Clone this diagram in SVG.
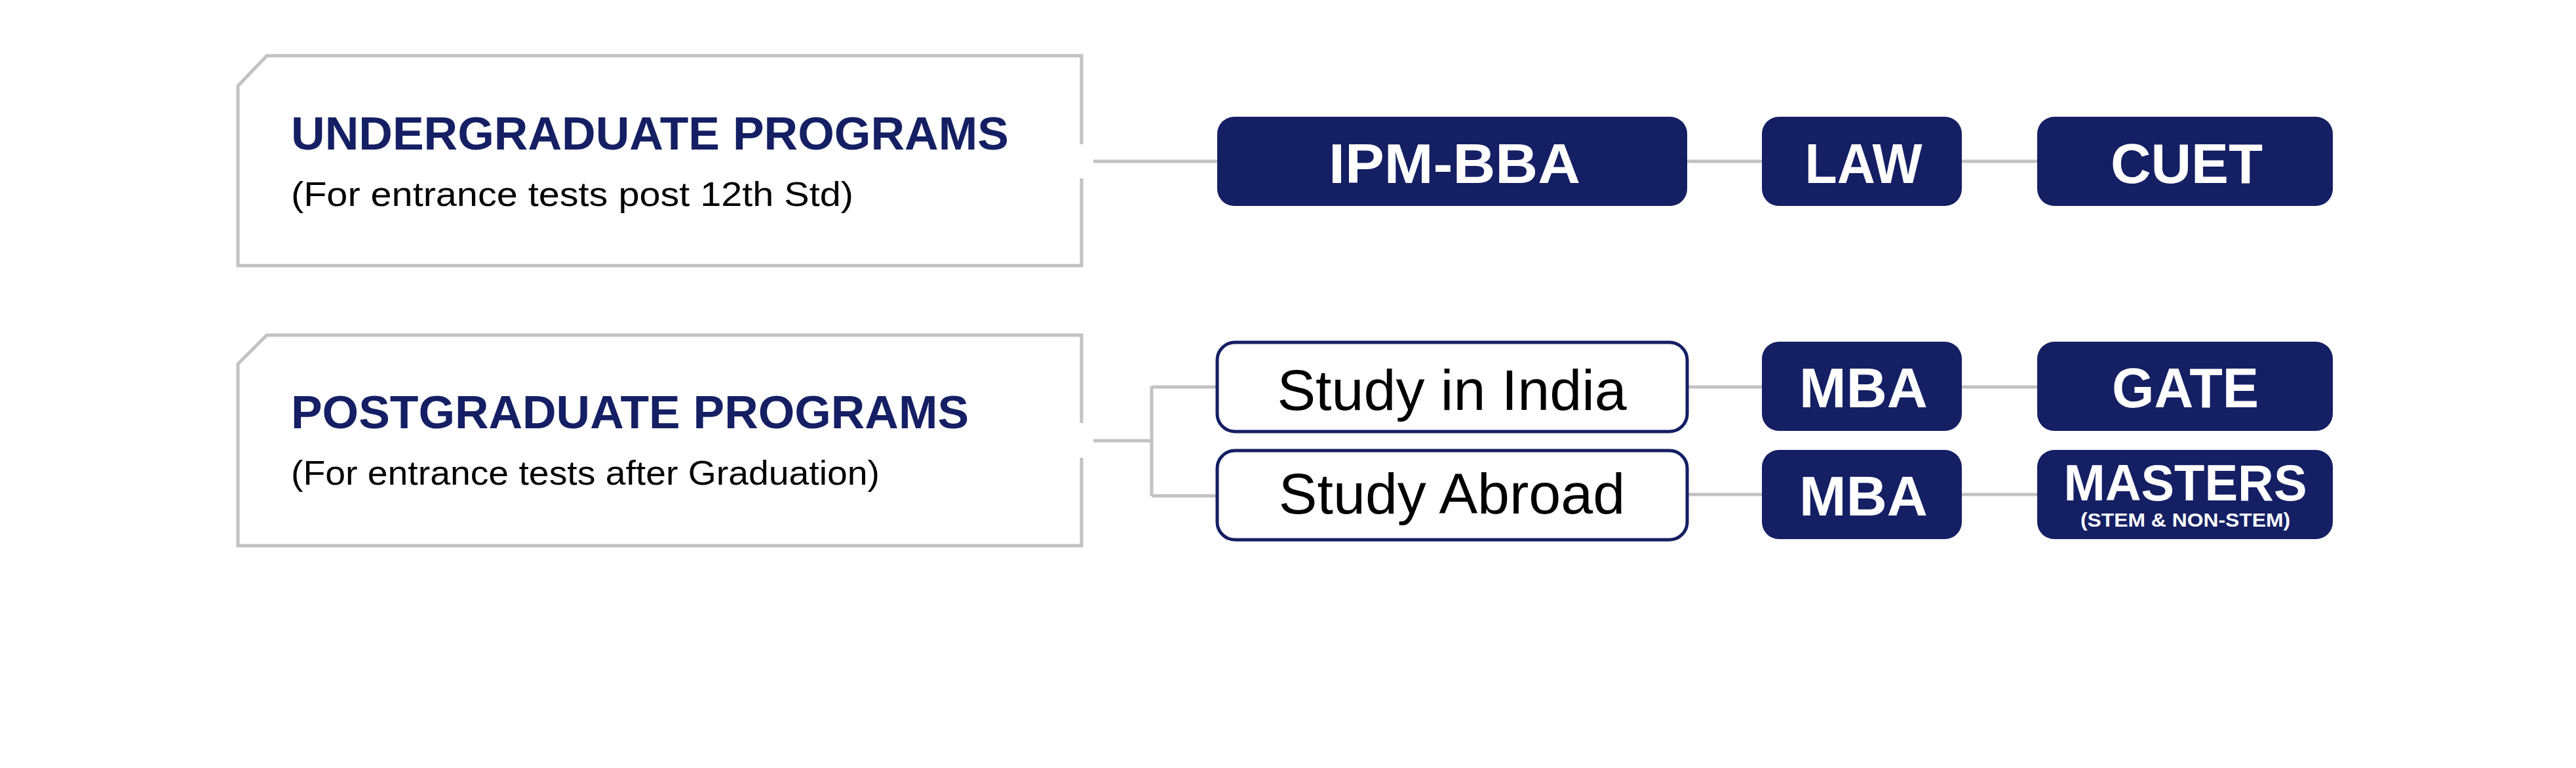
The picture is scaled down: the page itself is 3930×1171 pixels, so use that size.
<svg xmlns="http://www.w3.org/2000/svg" width="3930" height="1171" viewBox="0 0 3930 1171">
<style>
.frame{fill:#ffffff;stroke:#c2c2c2;stroke-width:5;stroke-linejoin:miter}
.conn{fill:none;stroke:#c2c2c2;stroke-width:5}
.solid{fill:#141f64}
.outline{fill:#ffffff;stroke:#141f64;stroke-width:5}
.title{font-family:"Liberation Sans",Arial,sans-serif;font-weight:700;fill:#141f64;font-size:71px}
.sub{font-family:"Liberation Sans",Arial,sans-serif;fill:#000000;font-size:52px}
.wt{font-family:"Liberation Sans",Arial,sans-serif;font-weight:700;fill:#ffffff;font-size:86px;text-anchor:middle}
.bt{font-family:"Liberation Sans",Arial,sans-serif;fill:#000000;font-size:88px;text-anchor:middle}
</style>
<rect width="3930" height="1171" fill="#ffffff"/>
<g id="connectors">
<line class="conn" x1="1668" y1="246" x2="1857" y2="246"/>
<line class="conn" x1="2574" y1="246" x2="2688" y2="246"/>
<line class="conn" x1="2993" y1="246" x2="3108" y2="246"/>
<path class="conn" d="M1668 672 H1757 M1757 589 V756 M1757 590 H1857 M1757 756 H1857"/>
<line class="conn" x1="2574" y1="590" x2="2688" y2="590"/>
<line class="conn" x1="2993" y1="590" x2="3108" y2="590"/>
<line class="conn" x1="2574" y1="754" x2="2688" y2="754"/>
<line class="conn" x1="2993" y1="754" x2="3108" y2="754"/>
</g>
<g id="undergraduate">
<path class="frame" d="M1650 220 V85 H407 L363 131 V405 H1650 V272"/>
<text class="title" x="444" y="228" textLength="1095" lengthAdjust="spacingAndGlyphs">UNDERGRADUATE PROGRAMS</text>
<text class="sub" x="444" y="314" textLength="858" lengthAdjust="spacingAndGlyphs">(For entrance tests post 12th Std)</text>
</g>
<g id="postgraduate">
<path class="frame" d="M1650 645 V511 H407 L363 555 V832 H1650 V698"/>
<text class="title" x="444" y="653" textLength="1034" lengthAdjust="spacingAndGlyphs">POSTGRADUATE PROGRAMS</text>
<text class="sub" x="444" y="739" textLength="898" lengthAdjust="spacingAndGlyphs">(For entrance tests after Graduation)</text>
</g>
<g id="ipm-bba">
<rect class="solid" x="1857" y="178" width="717" height="136" rx="26"/>
<text class="wt" x="2219" y="279" textLength="384" lengthAdjust="spacingAndGlyphs">IPM-BBA</text>
</g>
<g id="law">
<rect class="solid" x="2688" y="178" width="305" height="136" rx="26"/>
<text class="wt" x="2843" y="279" textLength="179" lengthAdjust="spacingAndGlyphs">LAW</text>
</g>
<g id="cuet">
<rect class="solid" x="3108" y="178" width="451" height="136" rx="26"/>
<text class="wt" x="3336" y="279" textLength="232" lengthAdjust="spacingAndGlyphs">CUET</text>
</g>
<g id="study-india">
<rect class="outline" x="1857" y="522" width="717" height="136" rx="27"/>
<text class="bt" x="2215" y="625">Study in India</text>
</g>
<g id="study-abroad">
<rect class="outline" x="1857" y="687" width="717" height="136" rx="27"/>
<text class="bt" x="2215" y="783">Study Abroad</text>
</g>
<g id="mba-india">
<rect class="solid" x="2688" y="521" width="305" height="136" rx="26"/>
<text class="wt" x="2843" y="621">MBA</text>
</g>
<g id="gate">
<rect class="solid" x="3108" y="521" width="451" height="136" rx="26"/>
<text class="wt" x="3334" y="621" textLength="224" lengthAdjust="spacingAndGlyphs">GATE</text>
</g>
<g id="mba-abroad">
<rect class="solid" x="2688" y="686" width="305" height="136" rx="26"/>
<text class="wt" x="2843" y="786">MBA</text>
</g>
<g id="masters">
<rect class="solid" x="3108" y="686" width="451" height="136" rx="26"/>
<text class="wt" x="3334" y="763" style="font-size:77px" textLength="371" lengthAdjust="spacingAndGlyphs">MASTERS</text>
<text class="wt" x="3334" y="803" style="font-size:30px" textLength="320" lengthAdjust="spacingAndGlyphs">(STEM &amp; NON-STEM)</text>
</g>
</svg>
